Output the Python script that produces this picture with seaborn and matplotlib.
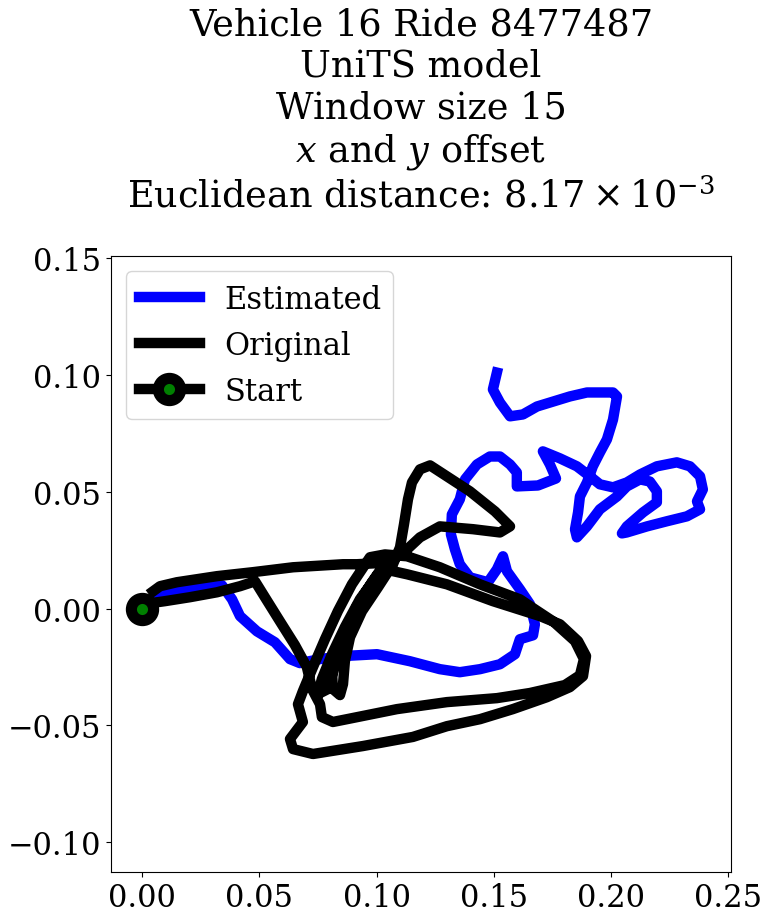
import numpy as np
import pandas as pd
import matplotlib
matplotlib.use("Agg")
import matplotlib.pyplot as plt
import seaborn as sns

# Estimated trajectory (x, y offsets)
est_x = [0.0000, 0.0107, 0.0247, 0.0341, 0.0384, 0.0418, 0.0490, 0.0567, 0.0631, 0.0673,
         0.0759, 0.0857, 0.1002, 0.1142, 0.1270, 0.1355, 0.1441, 0.1526, 0.1590, 0.1611,
         0.1667, 0.1675, 0.1654, 0.1611, 0.1556, 0.1539, 0.1513, 0.1475, 0.1398, 0.1355,
         0.1334, 0.1317, 0.1321, 0.1355, 0.1377, 0.1428, 0.1483, 0.1526, 0.1569, 0.1598,
         0.1598, 0.1688, 0.1765, 0.1739, 0.1709, 0.1782, 0.1854, 0.1910, 0.1952, 0.2008,
         0.2067, 0.2123, 0.2195, 0.2280, 0.2336, 0.2379, 0.2391, 0.2366, 0.2379, 0.2323,
         0.2238, 0.2153, 0.2067, 0.2046, 0.2067, 0.2136, 0.2195, 0.2195, 0.2165, 0.2123,
         0.2067, 0.2025, 0.1952, 0.1897, 0.1854, 0.1846, 0.1859, 0.1867, 0.1897, 0.1922,
         0.1952, 0.1982, 0.2008, 0.2025, 0.2008, 0.1952, 0.1897, 0.1824, 0.1684, 0.1624,
         0.1569, 0.1526, 0.1496, 0.1513]
est_y = [0.0000, 0.0066, 0.0091, 0.0100, 0.0040, -0.0032, -0.0097, -0.0144, -0.0216, -0.0233,
         -0.0216, -0.0203, -0.0195, -0.0225, -0.0259, -0.0272, -0.0259, -0.0238, -0.0195, -0.0131,
         -0.0114, -0.0067, 0.0019, 0.0083, 0.0160, 0.0224, 0.0168, 0.0113, 0.0134, 0.0190,
         0.0254, 0.0318, 0.0403, 0.0468, 0.0553, 0.0617, 0.0651, 0.0651, 0.0617, 0.0583,
         0.0523, 0.0527, 0.0557, 0.0617, 0.0673, 0.0643, 0.0609, 0.0566, 0.0532, 0.0519,
         0.0540, 0.0574, 0.0609, 0.0626, 0.0609, 0.0566, 0.0510, 0.0459, 0.0425, 0.0395,
         0.0374, 0.0352, 0.0326, 0.0322, 0.0352, 0.0412, 0.0455, 0.0502, 0.0544, 0.0553,
         0.0523, 0.0480, 0.0425, 0.0352, 0.0305, 0.0339, 0.0412, 0.0480, 0.0540, 0.0609,
         0.0668, 0.0724, 0.0809, 0.0908, 0.0925, 0.0925, 0.0925, 0.0908, 0.0865, 0.0831,
         0.0823, 0.0882, 0.0938, 0.1010]

# Original trajectory (x, y offsets)
orig_x = [0.0000, 0.0034, 0.0098, 0.0205, 0.0320, 0.0418, 0.0482, 0.0524, 0.0588, 0.0652,
          0.0703, 0.0725, 0.0759, 0.0767, 0.0814, 0.0874, 0.1087, 0.1300, 0.1513, 0.1654,
          0.1803, 0.1867, 0.1884, 0.1846, 0.1752, 0.1675, 0.1611, 0.1441, 0.1270, 0.1130,
          0.1036, 0.0972, 0.0895, 0.0835, 0.0780, 0.0729, 0.0686, 0.0665, 0.0686, 0.0631,
          0.0644, 0.0729, 0.0942, 0.1155, 0.1300, 0.1441, 0.1581, 0.1726, 0.1824, 0.1880,
          0.1893, 0.1859, 0.1782, 0.1697, 0.1496, 0.1300, 0.1130, 0.1036, 0.0963, 0.0895,
          0.0844, 0.0810, 0.0814, 0.0844, 0.0857, 0.0865, 0.0887, 0.0938, 0.1006, 0.1070,
          0.1100, 0.1117, 0.1134, 0.1151, 0.1185, 0.1228, 0.1300, 0.1398, 0.1505, 0.1569,
          0.1526, 0.1411, 0.1270, 0.1185, 0.1121, 0.1057, 0.1006, 0.0929, 0.0865, 0.0810,
          0.0767, 0.0750, 0.0793, 0.0831, 0.0865, 0.0916, 0.0980, 0.1036, 0.0993, 0.0916,
          0.0857, 0.0644, 0.0473, 0.0320, 0.0149, 0.0077, 0.0047]
orig_y = [0.0000, 0.0023, 0.0032, 0.0049, 0.0070, 0.0096, 0.0117, 0.0049, -0.0054, -0.0156,
          -0.0250, -0.0344, -0.0409, -0.0464, -0.0485, -0.0473, -0.0430, -0.0400, -0.0383, -0.0361,
          -0.0327, -0.0285, -0.0216, -0.0139, -0.0054, -0.0003, 0.0040, 0.0104, 0.0177, 0.0224,
          0.0232, 0.0220, 0.0104, -0.0011, -0.0131, -0.0250, -0.0353, -0.0409, -0.0485, -0.0558,
          -0.0601, -0.0622, -0.0588, -0.0549, -0.0503, -0.0473, -0.0430, -0.0379, -0.0336, -0.0289,
          -0.0203, -0.0139, -0.0067, -0.0032, 0.0032, 0.0104, 0.0147, 0.0168, 0.0074, -0.0045,
          -0.0165, -0.0268, -0.0344, -0.0370, -0.0323, -0.0225, -0.0122, -0.0011, 0.0091, 0.0190,
          0.0262, 0.0361, 0.0468, 0.0540, 0.0596, 0.0613, 0.0566, 0.0502, 0.0416, 0.0352,
          0.0326, 0.0340, 0.0352, 0.0305, 0.0245, 0.0203, 0.0147, 0.0040, -0.0079, -0.0195,
          -0.0301, -0.0366, -0.0344, -0.0216, -0.0109, 0.0010, 0.0113, 0.0194, 0.0194, 0.0190,
          0.0190, 0.0177, 0.0156, 0.0139, 0.0113, 0.0096, 0.0074]

start_x = [0.0]
start_y = [0.0]

title_lines = ["Vehicle 16 Ride 8477487", "UniTS model", "Window size 15",
               "$x$ and $y$ offset", "Euclidean distance: $8.17\\times10^{-3}$"]

plt.rcParams["font.family"] = ["DejaVu Serif"]
plt.rcParams["mathtext.fontset"] = "dejavuserif"
plt.rcParams["font.size"] = 22

est_df = pd.DataFrame({"x": est_x, "y": est_y})
orig_df = pd.DataFrame({"x": orig_x, "y": orig_y})
start_df = pd.DataFrame({"x": start_x, "y": start_y})

fig = plt.figure(figsize=(7.7, 9.2), dpi=100)
ax = fig.add_axes([111 / 770, 47 / 920, 620 / 770, 616 / 920])

lw = 7.5
sns.lineplot(data=est_df, x="x", y="y", sort=False, estimator=None, color="blue",
             lw=lw, label="Estimated", ax=ax)
sns.lineplot(data=orig_df, x="x", y="y", sort=False, estimator=None, color="black",
             lw=lw, label="Original", ax=ax)
sns.lineplot(data=start_df, x="x", y="y", sort=False, estimator=None, color="black",
             lw=lw, marker="o", markersize=16, markerfacecolor="green",
             markeredgecolor="black", markeredgewidth=8, label="Start", ax=ax)

ax.set_xlim(-0.0132, 0.2511)
ax.set_ylim(-0.1127, 0.1509)
ax.set_xticks([0.00, 0.05, 0.10, 0.15, 0.20, 0.25])
ax.set_yticks([-0.10, -0.05, 0.00, 0.05, 0.10, 0.15])
ax.set_xlabel("")
ax.set_ylabel("")
ax.set_title("\n".join(title_lines), pad=36)
ax.legend(loc="upper left")

fig.savefig("out.png", dpi=100)
